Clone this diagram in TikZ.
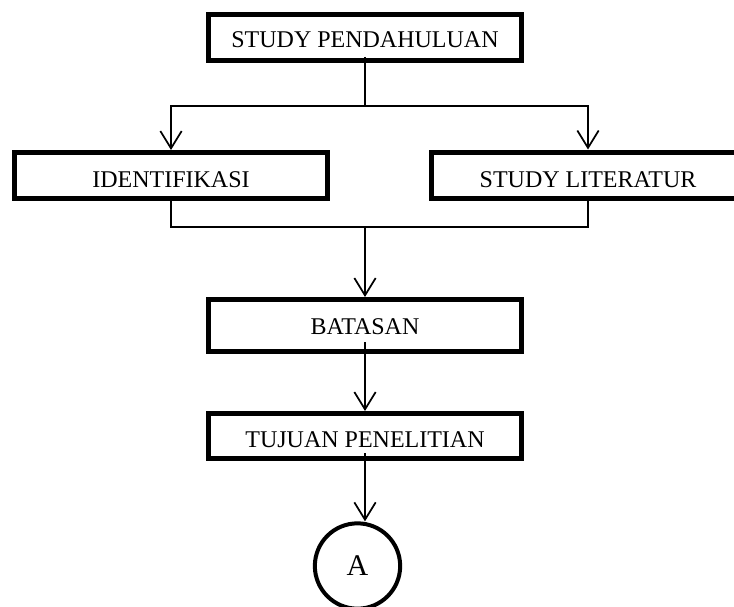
\documentclass[tikz,border=0pt]{standalone}
\usepackage{fontspec}
\setmainfont{Liberation Serif}
\usepackage{tikz}
\usetikzlibrary{arrows.meta}

\tikzset{
  kotak/.style={draw, line width=3.75pt, fill=white, minimum width=234.75pt,
    minimum height=34.5pt, inner sep=0pt, text height=15pt, text depth=0pt,
    font=\fontsize{18}{20}\selectfont},
  garis/.style={line width=1.3pt},
  bulat/.style={draw, circle, line width=3pt, minimum size=64pt, inner sep=0pt,
    font=\fontsize{22.5}{26}\selectfont}
}

\begin{document}
\begin{tikzpicture}[x=0.75pt,y=-0.75pt,>={Straight Barb[length=13pt,width=16pt,line width=1.3pt]}]
        \useasboundingbox (0,0) rectangle (734,606);
        \node[kotak] (pend) at (365,37.5) {STUDY PENDAHULUAN};
        \node[kotak, text height=18.5pt] (iden) at (171,175.5) {IDENTIFIKASI};
        \node[kotak, text height=18.5pt] (lit) at (588,175) {STUDY LITERATUR};
        \node[kotak, minimum height=39pt, text height=13.5pt] (bat) at (365,325.5) {BATASAN};
        \node[kotak, minimum height=33.75pt, text height=17pt] (tuj) at (365,436) {TUJUAN PENELITIAN};
        \node[bulat] (a) at (357.5,566) {A};
        \coordinate (cab1) at (365,106);
        \coordinate (cab2) at (365,227);
        \draw[garis] (pend.south) ++(0,-6) -- (cab1);
        \draw[garis,->] (cab1) -| (iden.north);
        \draw[garis,->] (cab1) -| (lit.north);
        \draw[garis] (iden.south) |- (cab2) -| (lit.south);
        \draw[garis,->] (cab2) -- (bat.north);
        \draw[garis,->] (bat.south) ++(0,-12) -- (tuj.north);
        \draw[garis,->] (tuj.south) ++(0,-8) -- (a.north -| tuj.south);
\end{tikzpicture}
\end{document}
